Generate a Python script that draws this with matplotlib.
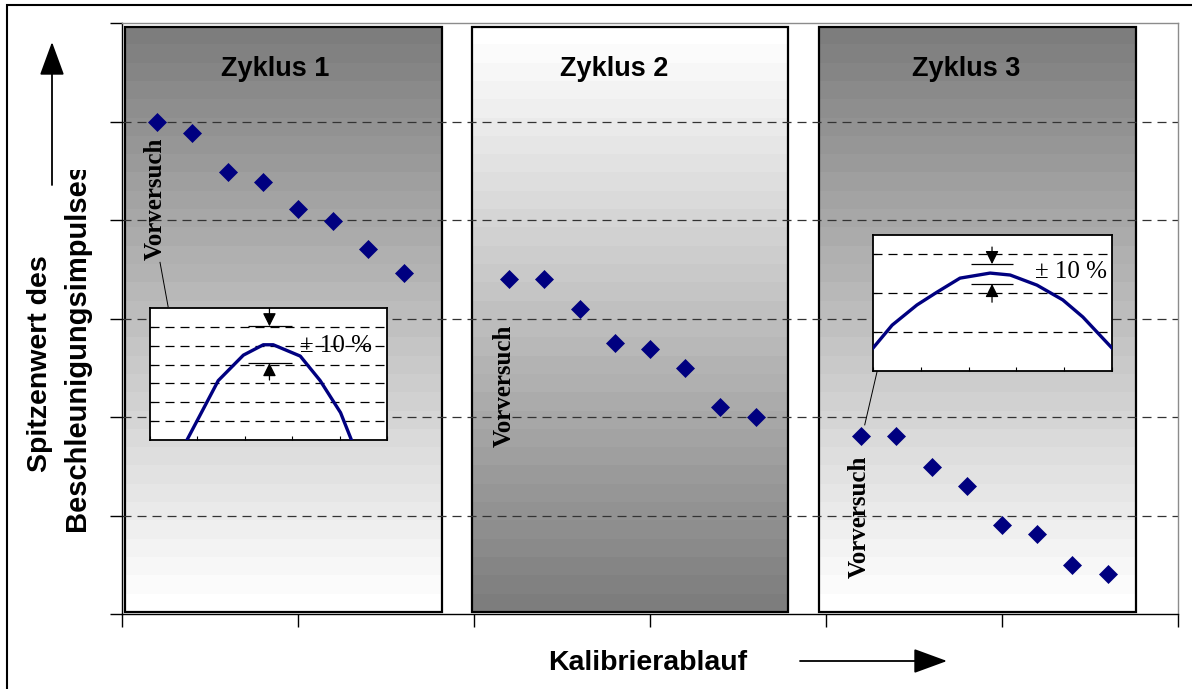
import numpy as np
import matplotlib
matplotlib.use("Agg")
import matplotlib.pyplot as plt
from matplotlib.patches import Rectangle
from matplotlib.transforms import Bbox

plt.rcParams["lines.scale_dashes"] = False

# ---------------- data ----------------
cycle_titles = ["Zyklus 1", "Zyklus 2", "Zyklus 3"]
x_cycle1 = [1, 2, 3, 4, 5, 6, 7, 8]
y_cycle1 = [5.00, 4.88, 4.49, 4.39, 4.11, 3.99, 3.71, 3.46]
x_cycle2 = [11, 12, 13, 14, 15, 16, 17, 18]
y_cycle2 = [3.40, 3.40, 3.10, 2.75, 2.69, 2.50, 2.10, 2.00]
x_cycle3 = [21, 22, 23, 24, 25, 26, 27, 28]
y_cycle3 = [1.81, 1.81, 1.49, 1.30, 0.90, 0.81, 0.50, 0.41]
trial_label = "Vorversuch"
panel_left = [0.08, 9.93, 19.80]
panel_right = [9.08, 18.92, 28.82]
panel_top = 5.96
tolerance_label = "± 10 %"
inset1_x = [0.78, 1.00, 1.44, 1.97, 2.39, 2.60, 3.17, 3.59, 4.02, 4.25]
inset1_y = [0.00, 1.05, 3.15, 4.50, 5.05, 5.05, 4.45, 3.15, 1.45, 0.00]
inset2_x = [0.00, 0.40, 0.92, 1.34, 1.82, 2.45, 2.87, 3.43, 3.97, 4.39, 5.00]
inset2_y = [0.59, 1.18, 1.70, 2.03, 2.39, 2.52, 2.47, 2.21, 1.83, 1.39, 0.59]
x_label = "Kalibrierablauf"
y_label_lines = ["Spitzenwert des", "Beschleunigungsimpulses"]

# ---------------- figure ----------------
W, H, DPI = 1192, 689, 100
fig = plt.figure(figsize=(W / DPI, H / DPI), dpi=DPI)
fig.patch.set_facecolor("white")


def fx(px):
    return px / W


def fy(py):
    return 1 - py / H


SANS = ["Liberation Sans", "DejaVu Sans"]
SERIF = ["Liberation Serif", "DejaVu Serif"]
NAVY = "#000080"
DASH = (0, (6.5, 4.3))

ax = fig.add_axes([fx(122), fy(614), fx(1178) - fx(122), fy(23) - fy(614)])
ax.set_facecolor("white")

# gradient panels
bands = 32
grad_dark_top = np.linspace(125, 255, bands)[:, None] / 255.0
grads = [grad_dark_top, grad_dark_top[::-1], grad_dark_top]
for l, r, g in zip(panel_left, panel_right, grads):
    ax.imshow(g, cmap="gray", vmin=0, vmax=1, extent=(l, r, 0.02, panel_top),
              aspect="auto", origin="upper", interpolation="nearest", zorder=1)
    ax.add_patch(Rectangle((l, 0.02), r - l, panel_top - 0.02, fill=False,
                           ec="black", lw=1.6, zorder=1.6))

ax.set_xlim(0, 30)
ax.set_ylim(0, 6)

# gridlines over panels
ax.hlines([1, 2, 3, 4, 5], 0, 30, colors="#333333", lw=0.9, linestyles=DASH, zorder=2)

# points
for xs, ys in [(x_cycle1, y_cycle1), (x_cycle2, y_cycle2), (x_cycle3, y_cycle3)]:
    ax.plot(xs, ys, ls="none", marker="D", ms=9.0, color=NAVY, mec=NAVY, mew=0.5, zorder=5)

# titles
for xt, t in zip([4.35, 13.98, 23.98], cycle_titles):
    ax.text(xt, 5.46, t, ha="center", va="baseline", fontsize=19.5,
            fontweight="bold", family=SANS, zorder=6)

# Vorversuch labels
for (xv, yv) in [(0.94, 4.22), (10.85, 2.32), (20.94, 0.985)]:
    ax.text(xv, yv, trial_label, rotation=90, ha="center", va="center",
            fontsize=18, fontweight="bold", family=SERIF, zorder=6)

# leader lines
ax.plot([1.08, 1.31], [3.57, 3.12], color="black", lw=0.7, zorder=6)
ax.plot([21.45, 21.10], [2.46, 1.92], color="black", lw=0.7, zorder=6)

# axes styling
ax.set_xticks(range(0, 31, 5))
ax.set_yticks(range(0, 7))
ax.set_xticklabels([])
ax.set_yticklabels([])
ax.tick_params(direction="out", length=9, width=1, color="black")
for s in ["left", "bottom"]:
    ax.spines[s].set_color("black")
    ax.spines[s].set_linewidth(1.0)
for s in ["top", "right"]:
    ax.spines[s].set_color("#8c8c8c")
    ax.spines[s].set_linewidth(1.0)


# ---------------- insets ----------------
def style_inset(ia, xmax, ymax, grid):
    ia.set_facecolor("white")
    ia.set_xlim(0, xmax)
    ia.set_ylim(0, ymax)
    ia.hlines(grid, 0, xmax, colors="black", lw=0.9, linestyles=DASH, zorder=2)
    ia.set_xticks(range(0, xmax + 1))
    ia.set_yticks(grid)
    ia.set_xticklabels([])
    ia.set_yticklabels([])
    ia.tick_params(direction="in", length=3, width=0.8)
    for s in ia.spines.values():
        s.set_linewidth(1.3)
        s.set_color("black")


def tol_marks(ia, x, y_top, y_hi, y_lo, y_bot, x0, x1):
    ia.hlines([y_hi, y_lo], x0, x1, colors="black", lw=0.9, zorder=3)
    kw = dict(arrowstyle="-|>,head_length=0.5,head_width=0.25", lw=0.9,
              color="black", mutation_scale=16, shrinkA=0, shrinkB=0)
    ia.annotate("", xy=(x, y_hi), xytext=(x, y_top), arrowprops=kw, zorder=3)
    ia.annotate("", xy=(x, y_lo), xytext=(x, y_bot), arrowprops=kw, zorder=3)


ia1 = fig.add_axes([fx(150), fy(440), fx(387) - fx(150), fy(308) - fy(440)])
style_inset(ia1, 5, 7, [1, 2, 3, 4, 5, 6])
ia1.plot(inset1_x, inset1_y, color=NAVY, lw=2.4, zorder=4)
tol_marks(ia1, 2.52, 6.98, 6.03, 4.08, 3.18, 2.07, 3.0)
ia1.text(3.17, 5.0, tolerance_label, ha="left", va="center", fontsize=18,
         family=SERIF, zorder=1)

ia2 = fig.add_axes([fx(873), fy(371), fx(1112) - fx(873), fy(235) - fy(371)])
style_inset(ia2, 5, 3.5, [1, 2, 3])
ia2.plot(inset2_x, inset2_y, color=NAVY, lw=2.4, zorder=4)
tol_marks(ia2, 2.49, 3.19, 2.75, 2.24, 1.77, 2.05, 2.93)
ia2.text(3.39, 2.54, tolerance_label, ha="left", va="center", fontsize=18,
         family=SERIF, zorder=1)

# ---------------- axis labels & arrows ----------------
fig.text(fx(548), fy(670), x_label, ha="left", va="baseline", fontsize=20.5,
         fontweight="bold", family=SANS)
fig.text(fx(40), fy(364), y_label_lines[0], rotation=90, rotation_mode="anchor",
         ha="center", va="center", fontsize=20.5, fontweight="bold", family=SANS)
t2 = fig.text(fx(77), fy(531), y_label_lines[1], rotation=90, rotation_mode="anchor",
              ha="left", va="center", fontsize=21, fontweight="bold", family=SANS)
t2.set_clip_box(Bbox.from_extents(0, 0, W, H - 170))
t2.set_clip_on(True)

arrow_kw = dict(arrowstyle="-|>,head_length=1.5,head_width=0.55", lw=1.3,
                color="black", mutation_scale=14, shrinkA=0, shrinkB=0)
fig.add_artist(matplotlib.patches.FancyArrowPatch(
    (fx(52), fy(185)), (fx(52), fy(42)), transform=fig.transFigure, **arrow_kw))
fig.add_artist(matplotlib.patches.FancyArrowPatch(
    (fx(800), fy(661)), (fx(947), fy(661)), transform=fig.transFigure, **arrow_kw))

# outer frame (left/top visible)
fig.add_artist(Rectangle((fx(7), -0.2), 2.0, fy(5) + 0.2, transform=fig.transFigure,
                         fill=False, ec="black", lw=1.5))

fig.savefig("out.png", dpi=DPI)
